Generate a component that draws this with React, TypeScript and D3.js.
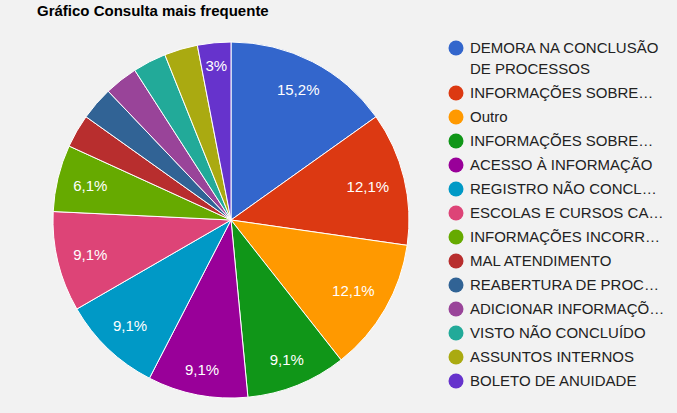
import React from "react";
import * as d3 from "d3";

const title = "Gráfico Consulta mais frequente";
const categories = [
  "DEMORA NA CONCLUSÃO DE PROCESSOS",
  "INFORMAÇÕES SOBRE…",
  "Outro",
  "INFORMAÇÕES SOBRE…",
  "ACESSO À INFORMAÇÃO",
  "REGISTRO NÃO CONCL…",
  "ESCOLAS E CURSOS CA…",
  "INFORMAÇÕES INCORR…",
  "MAL ATENDIMENTO",
  "REABERTURA DE PROC…",
  "ADICIONAR INFORMAÇÕ…",
  "VISTO NÃO CONCLUÍDO",
  "ASSUNTOS INTERNOS",
  "BOLETO DE ANUIDADE",
];
const values = [5, 4, 4, 3, 3, 3, 3, 2, 1, 1, 1, 1, 1, 1];
const labelShown = [true, true, true, true, true, true, true, true, false, false, false, false, false, true];
const colors = [
  "#3366cc", "#dc3912", "#ff9900", "#109618", "#990099", "#0099c6", "#dd4477",
  "#66aa00", "#b82e2e", "#316395", "#994499", "#22aa99", "#aaaa11", "#6633cc",
];

const W = 677;
const H = 413;
const FONT = "Arial, 'Liberation Sans', sans-serif";

let ctx: CanvasRenderingContext2D | null = null;
function measure(text: string, font: string): number {
  if (!ctx) ctx = document.createElement("canvas").getContext("2d");
  if (!ctx) return text.length * 8;
  ctx.font = font;
  return ctx.measureText(text).width;
}

function fmtPct(v: number): string {
  const r = Math.round(v * 1000) / 10;
  let s = r.toFixed(1);
  if (s.endsWith(".0")) s = s.slice(0, -2);
  return s.replace(".", ",") + "%";
}

function wrap(text: string, maxW: number, font: string): string[] {
  const words = text.split(" ");
  const lines: string[] = [];
  let cur = "";
  for (const w of words) {
    const t = cur ? cur + " " + w : w;
    if (measure(t, font) > maxW && cur) {
      lines.push(cur);
      cur = w;
    } else cur = t;
  }
  if (cur) lines.push(cur);
  return lines;
}

export default function App() {
  const cx = 231;
  const cy = 220;
  const r = 178;
  const total = d3.sum(values);
  const pie = d3.pie<number>().sort(null).value((d) => d);
  const arcs = pie(values);
  const arcGen = d3.arc<d3.PieArcDatum<number>>().innerRadius(0).outerRadius(r);

  const labelFont = `15px ${FONT}`;
  const legendFont = `15px ${FONT}`;
  const labelH = 13;
  const fitR = r - 15;

  const labels = arcs.map((a, i) => {
    if (!labelShown[i]) return null;
    const text = fmtPct(a.value / total);
    const w = measure(text, labelFont);
    const mid = (a.startAngle + a.endAngle) / 2;
    const sx = Math.sin(mid);
    const sy = -Math.cos(mid);
    let lo = 0;
    let hi = r;
    for (let k = 0; k < 40; k++) {
      const d = (lo + hi) / 2;
      const x = d * sx;
      const y = d * sy;
      const fx = Math.abs(x) + w / 2;
      const fy = Math.abs(y) + labelH / 2;
      if (Math.hypot(fx, fy) > fitR) hi = d;
      else lo = d;
    }
    return { text, x: lo * sx, y: lo * sy };
  });

  let yPos = 48;
  const legendItems = categories.map((c, i) => {
    const lines = wrap(c, 205, legendFont);
    const item = { lines, y: yPos, color: colors[i] };
    yPos += 24 + (lines.length - 1) * 21;
    return item;
  });

  return (
    <svg
      width={W}
      height={H}
      style={{ position: "absolute", left: 0, top: 0, background: "#f2f2f2" }}
      fontFamily={FONT}
    >
      <rect x={0} y={0} width={W} height={H} fill="#f2f2f2" />
      <text x={37} y={16} fontSize={15} fontWeight="bold" fill="#000">
        {title}
      </text>
      <g transform={`translate(${cx},${cy})`}>
        {arcs.map((a, i) => (
          <path key={i} d={arcGen(a) || ""} fill={colors[i]} stroke="#ffffff" strokeWidth={1} />
        ))}
        {labels.map((l, i) =>
          l ? (
            <text
              key={i}
              x={l.x}
              y={l.y}
              dy="0.36em"
              textAnchor="middle"
              fontSize={15}
              fill="#ffffff"
            >
              {l.text}
            </text>
          ) : null
        )}
      </g>
      <g>
        {legendItems.map((it, i) => (
          <g key={i}>
            <circle cx={456} cy={it.y} r={7.5} fill={it.color} />
            {it.lines.map((ln, j) => (
              <text key={j} x={470} y={it.y + j * 21} dy="0.36em" fontSize={15} fill="#222222">
                {ln}
              </text>
            ))}
          </g>
        ))}
      </g>
    </svg>
  );
}
